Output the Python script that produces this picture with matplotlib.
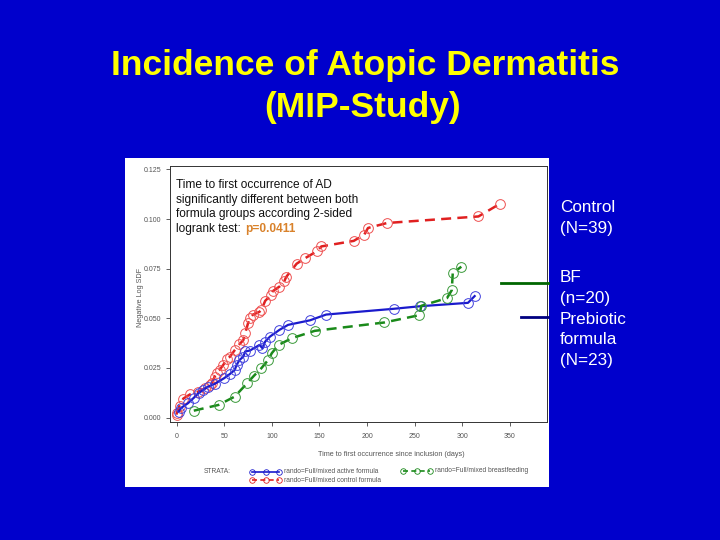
import matplotlib
matplotlib.use("Agg")
import matplotlib.pyplot as plt
from matplotlib.lines import Line2D
from matplotlib.patches import Rectangle

plt.rcParams['font.family'] = ['Liberation Sans', 'DejaVu Sans']

# data (days, negative log SDF)
control_days = [0, 0, 3, 7, 14, 22, 30, 35, 37, 40, 42, 45, 49, 53, 56, 61, 66, 70, 72, 75, 77, 80, 87, 89,
                93, 99, 101, 108, 113, 115, 126, 135, 147, 152, 186, 197, 201, 221, 317, 340]
control_vals = [0.0015, 0.0022, 0.006, 0.0096, 0.0117, 0.013, 0.0148, 0.0165, 0.0173, 0.0207, 0.0225, 0.024,
                0.0266, 0.0295, 0.0307, 0.034, 0.037, 0.039, 0.0425, 0.0476, 0.05, 0.0518, 0.0533, 0.0543,
                0.0588, 0.0617, 0.0637, 0.066, 0.0686, 0.0708, 0.0775, 0.0803, 0.0837, 0.0862, 0.089, 0.0921,
                0.0955, 0.098, 0.1013, 0.1078]

active_days = [2, 5, 12, 18, 23, 28, 33, 40, 50, 56, 61, 63, 66, 70, 72, 77, 87, 90, 93, 98, 108, 117, 140,
               157, 228, 256, 306, 313]
active_vals = [0.003, 0.005, 0.0073, 0.010, 0.0123, 0.014, 0.0156, 0.017, 0.0199, 0.022, 0.024, 0.0266,
               0.029, 0.0307, 0.0333, 0.0338, 0.0366, 0.035, 0.0383, 0.0408, 0.0442, 0.0467, 0.049, 0.0519,
               0.0548, 0.0561, 0.0578, 0.0612]

bf_days = [18, 44, 61, 74, 81, 89, 96, 100, 107, 121, 145, 218, 255, 257, 284, 289, 290, 299]
bf_vals = [0.0035, 0.0064, 0.0106, 0.0173, 0.021, 0.0249, 0.029, 0.0325, 0.0366, 0.040, 0.0437, 0.0479,
           0.0516, 0.0563, 0.0602, 0.0642, 0.0728, 0.076]

x_ticks = [0, 50, 100, 150, 200, 250, 300, 350]
y_ticks = [0.000, 0.025, 0.050, 0.075, 0.100, 0.125]

W, H = 720, 540
BG = '#0000cc'
RED = '#e02020'
BLUE = '#1a1acc'
GREEN = '#1a8a1a'
GRAY = '#555555'


def px(x, y):
    return x / W, 1 - y / H


fig = plt.figure(figsize=(7.2, 5.4), dpi=100)
fig.patch.set_facecolor(BG)

# slide title
fig.text(*px(365, 65), 'Incidence of Atopic Dermatitis', color='#ffff00', fontsize=25.5,
         fontweight='bold', ha='center', va='center')
fig.text(*px(363, 107), '(MIP-Study)', color='#ffff00', fontsize=25.5,
         fontweight='bold', ha='center', va='center')

# white panel holding the plot
fig.add_artist(Rectangle(px(125, 487), 424 / W, 329 / H, transform=fig.transFigure,
                         facecolor='white', edgecolor='none', zorder=0))

ax = fig.add_axes([170 / W, 1 - 422 / H, 377 / W, 256 / H])
ax.set_facecolor('white')
ax.plot(control_days, control_vals, color=RED, lw=1.8, ls=(0, (4, 2.5)), marker='o', ms=7,
        mfc='none', mec='#ee5050', mew=0.7)
ax.plot(active_days, active_vals, color=BLUE, lw=1.6, ls='-', marker='o', ms=7,
        mfc='none', mec='#4040dd', mew=0.7)
ax.plot(bf_days, bf_vals, color=GREEN, lw=1.8, ls=(0, (4, 2.5)), marker='o', ms=7,
        mfc='none', mec='#3a9a3a', mew=0.7)

ax.set_xlim(-7, 389)
ax.set_ylim(-0.0022, 0.1267)
ax.set_xticks(x_ticks)
ax.set_yticks(y_ticks)
ax.set_yticklabels([f'{v:.3f}' for v in y_ticks])
ax.tick_params(labelsize=5, colors='#444444', length=3, width=0.6, labelcolor=GRAY)
ax.tick_params(axis='x', pad=5)
for s in ax.spines.values():
    s.set_linewidth(0.7)
    s.set_color('#333333')

fig.text(*px(391, 454), 'Time to first occurrence since inclusion (days)', color=GRAY,
         fontsize=5.2, ha='center', va='center')
fig.text(*px(140, 297), 'Negative Log SDF', color=GRAY, fontsize=5.2, rotation=90,
         ha='center', va='center')

# annotation
lines = ['Time to first occurrence of AD', 'significantly different between both',
         'formula groups according 2-sided', 'logrank test: ']
for i, t in enumerate(lines):
    fig.text(*px(176, 185 + i * 14.6), t, color='#111111', fontsize=8.6, ha='left', va='center')
fig.text(*px(245, 228.8), 'p=0.0411', color='#d9822b', fontsize=8.6, fontweight='bold',
         ha='left', va='center')

# bottom legend
fig.text(*px(204, 471.5), 'STRATA:', color=GRAY, fontsize=4.8, ha='left', va='center')
legend_items = [(252, 279, 471.5, BLUE, '-', 'rando=Full/mixed active formula'),
                (252, 279, 480, RED, (0, (3, 2)), 'rando=Full/mixed control formula'),
                (403, 430, 471, GREEN, (0, (3, 2)), 'rando=Full/mixed breastfeeding')]
for x0, x1, y, c, ls, lab in legend_items:
    xa, ya = px(x0, y)
    xb, _ = px(x1, y)
    fig.add_artist(Line2D([xa, (xa + xb) / 2, xb], [ya, ya, ya], transform=fig.transFigure,
                          color=c, lw=1.2, ls=ls, marker='o', ms=4, mfc='none', mec=c, mew=0.6))
    fig.text(*px(x1 + 5, y), lab, color=GRAY, fontsize=4.8, ha='left', va='center')

# right-hand labels
fig.add_artist(Line2D([501 / W, 548 / W], [1 - 283 / H] * 2, transform=fig.transFigure,
                      color='#006600', lw=2))
fig.add_artist(Line2D([521 / W, 548 / W], [1 - 317 / H] * 2, transform=fig.transFigure,
                      color='#000080', lw=2))
right_labels = [(207, 'Control'), (228, '(N=39)'), (278, 'BF'), (298, '(n=20)'),
                (320, 'Prebiotic'), (340, 'formula'), (360, '(N=23)')]
for y, t in right_labels:
    fig.text(*px(560, y), t, color='white', fontsize=12.3, ha='left', va='center')

fig.savefig('out.png', dpi=100, facecolor=BG)
